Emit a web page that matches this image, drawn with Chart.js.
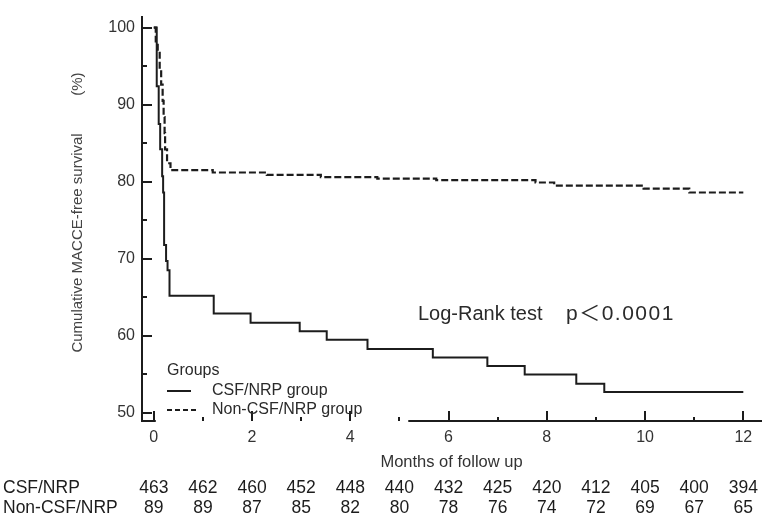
<!DOCTYPE html>
<html>
<head>
<meta charset="utf-8">
<script src="https://cdn.jsdelivr.net/npm/chart.js@4.4.0/dist/chart.umd.min.js"></script>
<style>
  html, body { margin: 0; padding: 0; background: #fff; }
  #wrap { width: 784px; height: 517px; }
</style>
</head>
<body>
<div id="wrap"><canvas id="kmChart" width="784" height="517"></canvas></div>
<script>
// Kaplan-Meier steps (months, % MACCE-free)
const csfMonths = [0, 0.06, 0.10, 0.13, 0.17, 0.19, 0.21, 0.25, 0.28, 0.32, 1.22, 1.97, 2.97, 3.52, 4.35, 5.68, 6.79, 7.55, 8.60, 9.17, 12];
const csfSurvival = [100, 92.4, 87.5, 84.2, 80.7, 78.6, 71.8, 69.7, 68.5, 65.2, 62.9, 61.7, 60.6, 59.5, 58.3, 57.2, 56.1, 55.0, 53.8, 52.7, 52.7];

const nonCsfMonths = [0, 0.04, 0.08, 0.12, 0.15, 0.18, 0.20, 0.22, 0.23, 0.27, 0.34, 1.20, 2.30, 3.40, 4.55, 5.75, 7.77, 8.15, 9.97, 10.90, 12];
const nonCsfSurvival = [100, 98.2, 96.9, 94.6, 92.6, 90.5, 88.4, 86.3, 84.2, 82.4, 81.5, 81.2, 80.9, 80.6, 80.4, 80.2, 79.9, 79.5, 79.1, 78.6, 78.6];

// number at risk
const riskMonths = [0, 1, 2, 3, 4, 5, 6, 7, 8, 9, 10, 11, 12];
const csfAtRisk = [463, 462, 460, 452, 448, 440, 432, 425, 420, 412, 405, 400, 394];
const nonCsfAtRisk = [89, 89, 87, 85, 82, 80, 78, 76, 74, 72, 69, 67, 65];

const xTickValues = [0, 1, 2, 3, 4, 5, 6, 7, 8, 9, 10, 11, 12];
const yTickValues = [50, 55, 60, 65, 70, 75, 80, 85, 90, 95, 100];

const groupLabels = ['CSF/NRP group', 'Non-CSF/NRP group'];
const riskLabels = ['CSF/NRP', 'Non-CSF/NRP'];
const testName = 'Log-Rank test';
const testP = 'p\uFF1C0.0001';

const FONT = '"Liberation Sans", Arial, "Noto Sans CJK SC", sans-serif';
const INK = '#1c1c1c';

const toPoints = (xs, ys) => xs.map((m, i) => ({ x: m, y: ys[i] }));

// ticks inward, legend, test label and risk table
const kmDecor = {
    id: 'kmDecor',
    afterDraw(chart) {
        const { ctx, chartArea, scales: { x, y } } = chart;
        ctx.save();

        // legend box sits over part of the x axis line
        const gapL = x.getPixelForValue(0) + 2;
        const gapR = x.getPixelForValue(5.18);
        ctx.fillStyle = '#fff';
        ctx.fillRect(gapL, chartArea.bottom - 3, gapR - gapL, 6);

        ctx.strokeStyle = INK;
        ctx.lineWidth = 2;
        ctx.beginPath();
        x.ticks.forEach(t => {
            const px = Math.round(x.getPixelForValue(t.value));
            const len = t.label !== '' ? 10 : 4;
            ctx.moveTo(px, chartArea.bottom);
            ctx.lineTo(px, chartArea.bottom - len);
        });
        y.ticks.forEach(t => {
            const py = Math.round(y.getPixelForValue(t.value));
            const len = t.label !== '' ? 10 : 5;
            ctx.moveTo(chartArea.left, py);
            ctx.lineTo(chartArea.left + len, py);
        });
        ctx.stroke();

        // legend
        ctx.fillStyle = '#2a2a2a';
        ctx.textBaseline = 'middle';
        ctx.textAlign = 'left';
        ctx.font = '16px ' + FONT;
        ctx.fillText('Groups', 167, 371);
        ctx.fillText(groupLabels[0], 212, 391);
        ctx.fillText(groupLabels[1], 212, 410);
        ctx.lineWidth = 2;
        ctx.beginPath();
        ctx.moveTo(167, 391);
        ctx.lineTo(191, 391);
        ctx.stroke();
        ctx.setLineDash([5, 3]);
        ctx.beginPath();
        ctx.moveTo(167, 410);
        ctx.lineTo(198, 410);
        ctx.stroke();
        ctx.setLineDash([]);

        // log-rank annotation
        ctx.font = '20px ' + FONT;
        ctx.fillText(testName, 418, 314);
        ctx.font = '21px ' + FONT;
        ctx.letterSpacing = '1.5px';
        ctx.fillText(testP, 566, 314);
        ctx.letterSpacing = '0px';

        // number at risk
        ctx.font = '17.5px ' + FONT;
        ctx.fillStyle = INK;
        ctx.fillText(riskLabels[0], 3, 488);
        ctx.fillText(riskLabels[1], 3, 508);
        ctx.textAlign = 'center';
        riskMonths.forEach((m, i) => {
            const px = x.getPixelForValue(m);
            ctx.fillText(String(csfAtRisk[i]), px, 488);
            ctx.fillText(String(nonCsfAtRisk[i]), px, 508);
        });
        ctx.restore();
    }
};

const ctx = document.getElementById('kmChart').getContext('2d');
new Chart(ctx, {
    type: 'line',
    data: {
        datasets: [
            {
                label: groupLabels[0],
                data: toPoints(csfMonths, csfSurvival),
                borderColor: INK,
                borderWidth: 2,
                stepped: true,
                pointRadius: 0,
                fill: false
            },
            {
                label: groupLabels[1],
                data: toPoints(nonCsfMonths, nonCsfSurvival),
                borderColor: INK,
                borderWidth: 2.2,
                borderDash: [7, 3],
                stepped: true,
                pointRadius: 0,
                fill: false
            }
        ]
    },
    options: {
        responsive: false,
        animation: false,
        devicePixelRatio: 1,
        layout: { padding: { top: 7, right: 23, left: 0, bottom: 0 } },
        plugins: {
            legend: { display: false },
            tooltip: { enabled: false }
        },
        scales: {
            x: {
                type: 'linear',
                min: -0.24,
                max: 12.36,
                afterBuildTicks: s => { s.ticks = xTickValues.map(v => ({ value: v })); },
                afterFit: s => { s.height = 96; },
                ticks: {
                    autoSkip: false,
                    maxRotation: 0,
                    padding: 7,
                    color: '#333',
                    font: { family: FONT, size: 16 },
                    callback: v => (v % 2 === 0 ? String(v) : '')
                },
                grid: { drawOnChartArea: false, drawTicks: false },
                border: { color: INK, width: 2 },
                title: {
                    display: true,
                    text: 'Months of follow up',
                    color: '#333',
                    font: { family: FONT, size: 16.5 },
                    padding: { top: 0, bottom: 45 }
                }
            },
            y: {
                min: 48.95,
                max: 101.43,
                afterBuildTicks: s => { s.ticks = yTickValues.map(v => ({ value: v })); },
                afterFit: s => { s.width = 142; },
                ticks: {
                    autoSkip: false,
                    padding: 7,
                    color: '#333',
                    font: { family: FONT, size: 16 },
                    callback: v => (v % 10 === 0 ? String(v) : '')
                },
                grid: { drawOnChartArea: false, drawTicks: false },
                border: { color: INK, width: 2 },
                title: {
                    display: true,
                    text: '   Cumulative MACCE-free survival         (%)',
                    color: '#444',
                    font: { family: FONT, size: 15 },
                    padding: { top: 69, bottom: 0 }
                }
            }
        }
    },
    plugins: [kmDecor]
});
</script>
</body>
</html>
